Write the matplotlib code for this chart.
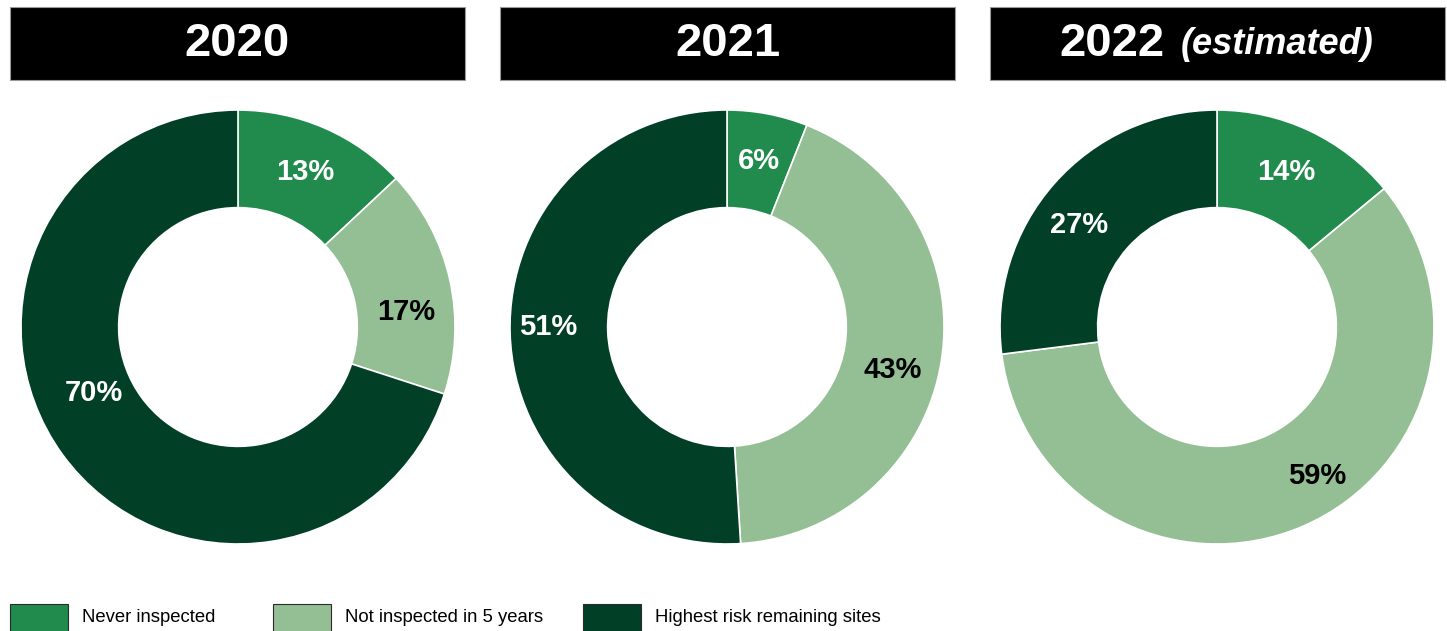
import numpy as np
import matplotlib
matplotlib.use("Agg")
import matplotlib.pyplot as plt
from matplotlib.patches import Rectangle

YEARS = ["2020", "2021", "2022"]
YEAR_NOTES = ["", "", "(estimated)"]
CATEGORIES = ["Never inspected", "Not inspected in 5 years", "Highest risk remaining sites"]
SHARES = [
    [13, 17, 70],
    [6, 43, 51],
    [14, 59, 27],
]
COLORS = ["#218B4D", "#94BE94", "#013F27"]
LABEL_COLORS = ["white", "black", "white"]

# label placement tweaks (degrees off the wedge middle, radius as fraction)
LABEL_SHIFT = [
    [0, -7.5, -11.5],
    [0, -5.5, -1.8],
    [1.2, 10.5, 4.7],
]
LABEL_R = [
    [0.78, 0.78, 0.73],
    [0.78, 0.79, 0.825],
    [0.78, 0.825, 0.79],
]

W, H = 1447, 631
OUTPUT_IMAGE = "out.png"

plt.rcParams["font.family"] = ["Liberation Sans", "DejaVu Sans"]


def fx(px):
    return px / W


def fy(py):
    # py measured from top
    return 1 - py / H


def main():
    fig = plt.figure(figsize=(W / 100, H / 100), dpi=100)

    box_left = [10, 500, 990]
    box_w = 455
    centers_x = [238, 727, 1217]
    center_y = 327
    radius = 217
    width = 0.45

    for i, year in enumerate(YEARS):
        # title box
        fig.patches.append(Rectangle((fx(box_left[i]), fy(80)), fx(box_w), 73 / H,
                                     transform=fig.transFigure, facecolor="black",
                                     edgecolor="#9a9a9a", linewidth=0.8))
        cx = fx(box_left[i] + box_w / 2)
        if YEAR_NOTES[i]:
            fig.text(cx - fx(106), fy(44), year, color="white", fontsize=34,
                     fontweight="bold", ha="center", va="center")
            fig.text(cx + fx(60), fy(44), YEAR_NOTES[i], color="white", fontsize=26,
                     fontweight="bold", fontstyle="italic", ha="center", va="center")
        else:
            fig.text(cx, fy(44), year, color="white", fontsize=34,
                     fontweight="bold", ha="center", va="center")

        ax = fig.add_axes([fx(centers_x[i] - radius - 3), fy(center_y + radius + 3),
                           fx(2 * radius + 6), (2 * radius + 6) / H])
        vals = SHARES[i]
        wedges, _ = ax.pie(vals, colors=COLORS, startangle=90, counterclock=False,
                           radius=1, wedgeprops=dict(width=width, edgecolor="white",
                                                     linewidth=1.2))
        lim = (radius + 3) / radius
        ax.set_xlim(-lim, lim)
        ax.set_ylim(-lim, lim)
        ax.set_aspect("equal")
        ax.axis("off")

        for j, (w, v, c) in enumerate(zip(wedges, vals, LABEL_COLORS)):
            ang = np.deg2rad((w.theta1 + w.theta2) / 2 + LABEL_SHIFT[i][j])
            r = LABEL_R[i][j]
            ax.text(r * np.cos(ang), r * np.sin(ang), f"{v}%", color=c, fontsize=21,
                    fontweight="bold", ha="center", va="center")

    # legend drawn by hand to match spacing
    leg_x = [10, 273, 583]
    for x, name, col in zip(leg_x, CATEGORIES, COLORS):
        fig.patches.append(Rectangle((fx(x), fy(633)), fx(58), 29 / H,
                                     transform=fig.transFigure, facecolor=col,
                                     edgecolor="#2b2b2b", linewidth=0.8))
        fig.text(fx(x + 72), fy(617), name, fontsize=13.3, ha="left", va="center")

    fig.savefig(OUTPUT_IMAGE, dpi=100)


if __name__ == "__main__":
    main()
